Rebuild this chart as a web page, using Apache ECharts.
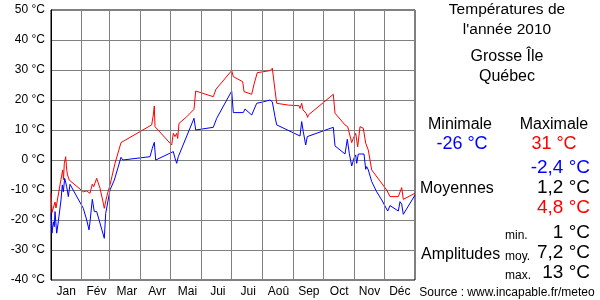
<!DOCTYPE html>
<html>
<head>
<meta charset="utf-8">
<script src="https://cdn.jsdelivr.net/npm/echarts@6/dist/echarts.min.js"></script>
<style>html,body{margin:0;padding:0;background:#fff;}#c{width:600px;height:300px;}</style>
</head>
<body>
<div id="c"></div>
<script>
// Day of year (0 = 1 Jan) and temperature (°C)
const maxDays  = [0,1,2.3,4,5,9,11.7,12.5,13.3,14.7,15.7,16.5,18.3,32.3,34,35.5,39,41.3,42.7,45.7,49,52.3,53.3,55.7,59,64,70,100.7,102.3,103.3,104,120.7,122.3,124,125.7,126.7,128,135.7,143,144.7,162.3,165,180.7,182.3,191.7,193,200.7,203.3,206.3,219,221.3,224,225.7,237.3,248,249,250.7,252,255,256.7,257.3,282.3,284,294,296.7,300.7,302.3,304.7,306.7,309,312.3,314.7,315.7,317.3,320.7,335.7,339,347.3,350.7,352.3,364];
const maxTemps = [-11,-17.5,-16,-14,-16,-8.3,-3.3,-6.5,-1.1,1.1,-3.3,-5,-6.7,-10.6,-11.1,-10.3,-11.1,-8,-8.9,-6.1,-9.4,-14.4,-16.1,-12.2,-8.3,-1.1,5.8,11.7,15,18,11.1,5,8.9,7.8,8.9,7.2,12.2,14.4,16.9,23,21.1,23.6,29.8,27.8,26.1,22.8,21.9,25.6,29.1,29.8,30.6,23.3,18.9,18.3,18.1,17.2,18.9,16.7,15.6,14.2,15,21.9,15.6,11.7,11.1,5.8,7.2,8.9,4.4,11.1,10.6,5.6,6.1,3.3,-3.3,-10,-12.2,-12.2,-9.2,-13.1,-11.1];
const minDays  = [0,1,2.3,3.3,4,5.7,7.3,10,11.3,12.3,13.7,15.7,17.3,19,32.3,35.7,38,39,41.3,43.3,45.7,53.3,54.7,59,63.3,70,71.7,99,101.3,103.3,104.7,122.3,124,125.7,127.3,143,144.7,162.3,165.7,180.7,182.3,192.3,194,200.7,205.7,212.3,219,221.3,224,225.7,249,250.7,252.3,254.7,256.3,282.3,284,294,296.3,298.3,300.7,303,304.7,305.7,307.3,313,314.7,315.7,317.3,320.7,325.7,330.7,336.7,339,347.3,349,350.7,352.3,364];
const minTemps = [-17.8,-24.4,-20.6,-22.2,-17.2,-24.4,-20.6,-13.3,-8.3,-10.6,-6.1,-8.9,-12.2,-8.1,-16.1,-20,-23.3,-20.6,-13.1,-17.2,-17.2,-26.1,-17.8,-10,-6.7,0.9,0,1.1,3.9,5.9,0,2.8,0.6,-1.1,1.1,13.9,10,10.9,13.9,23,15.8,15.8,17,15,18.9,19.4,20,19.4,14.4,11.7,8,12.8,9.4,5,7.8,10.9,4.7,2,6.9,2.2,-2,0.6,1.7,-1.1,2,2,-3.1,-2.2,-3.3,-7.2,-10.6,-13.3,-17,-15.2,-17,-13.9,-14.7,-18.1,-11.7];
const months = ['Jan','Fév','Mar','Avr','Mai','Jui','Jui','Aoû','Sep','Oct','Nov','Déc'];
const monthEdges = [30,58,89,119,150,180,211,242,272,303,333];
const yTicks = {min:-40, max:50, step:10};

const zip = (a,b) => a.map((v,i)=>[v,b[i]]);
const F = 'Liberation Sans, Arial, sans-serif';

const chart = echarts.init(document.getElementById('c'), null, {renderer:'canvas'});
function txt(text, x, y, size, color, align){
  return {type:'text', x:x, y:y, silent:true,
    style:{text:text, fill:color||'#000', fontSize:size, fontFamily:F,
      align:align||'center', verticalAlign:'middle',
      textAlign:align||'center', textVerticalAlign:'middle'}};
}
chart.setOption({
  animation:false,
  backgroundColor:'#fff',
  grid:{left:51, top:10, width:364, height:270, show:true, borderColor:'#000', borderWidth:1, backgroundColor:'#fff'},
  xAxis:[
    {type:'value', min:0, max:364, show:true, axisLabel:{show:false}, axisTick:{show:false},
     splitLine:{show:false}, axisLine:{show:false}},
    {type:'category', data:months, position:'bottom', boundaryGap:true, gridIndex:0,
     axisLine:{show:false}, axisTick:{show:false}, splitLine:{show:false},
     axisLabel:{color:'#000', fontSize:12, fontFamily:F, margin:6}}
  ],
  yAxis:{type:'value', min:yTicks.min, max:yTicks.max, interval:yTicks.step,
    axisLine:{show:true, lineStyle:{color:'#000'}}, axisTick:{show:false},
    axisLabel:{formatter:'{value} °C', color:'#000', fontSize:12, fontFamily:F, margin:6},
    splitLine:{show:true, lineStyle:{color:'#808080', width:1}}},
  series:[
    {type:'line', xAxisIndex:0, data:zip(maxDays,maxTemps), showSymbol:false, symbol:'none',
     lineStyle:{color:'#ff0000', width:1}, z:3,
     markLine:{silent:true, symbol:'none', label:{show:false},
       lineStyle:{color:'#808080', width:1, type:'solid'},
       data: monthEdges.map(d=>({xAxis:d}))}, },
    {type:'line', xAxisIndex:0, data:zip(minDays,minTemps), showSymbol:false, symbol:'none',
     lineStyle:{color:'#0000ff', width:1}, z:4}
  ],
  graphic:[
    txt('Températures de', 507, 10, 15.5),
    txt("l'année 2010", 507, 30, 15.5),
    txt('Grosse Île', 507, 57, 16),
    txt('Québec', 507, 77, 16),
    txt('Minimale', 460, 125, 16),
    txt('Maximale', 554, 125, 16),
    txt('-26 °C', 462, 144, 18, '#0000ff'),
    txt('31 °C', 554, 144, 18, '#ff0000'),
    txt('-2,4 °C', 590, 168, 19, '#0000ff', 'right'),
    txt('Moyennes', 420, 189, 16, '#000', 'left'),
    txt('1,2 °C', 590, 188, 19, '#000', 'right'),
    txt('4,8 °C', 590, 208, 19, '#ff0000', 'right'),
    txt('min.', 505, 236, 12, '#000', 'left'),
    txt('1 °C', 590, 233, 19, '#000', 'right'),
    txt('Amplitudes', 421, 255, 16, '#000', 'left'),
    txt('moy.', 505, 257, 12, '#000', 'left'),
    txt('7,2 °C', 590, 253, 19, '#000', 'right'),
    txt('max.', 505, 276, 12, '#000', 'left'),
    txt('13 °C', 590, 273, 19, '#000', 'right'),
    txt('Source : www.incapable.fr/meteo', 507, 293, 12)
  ]
});
</script>
</body>
</html>
